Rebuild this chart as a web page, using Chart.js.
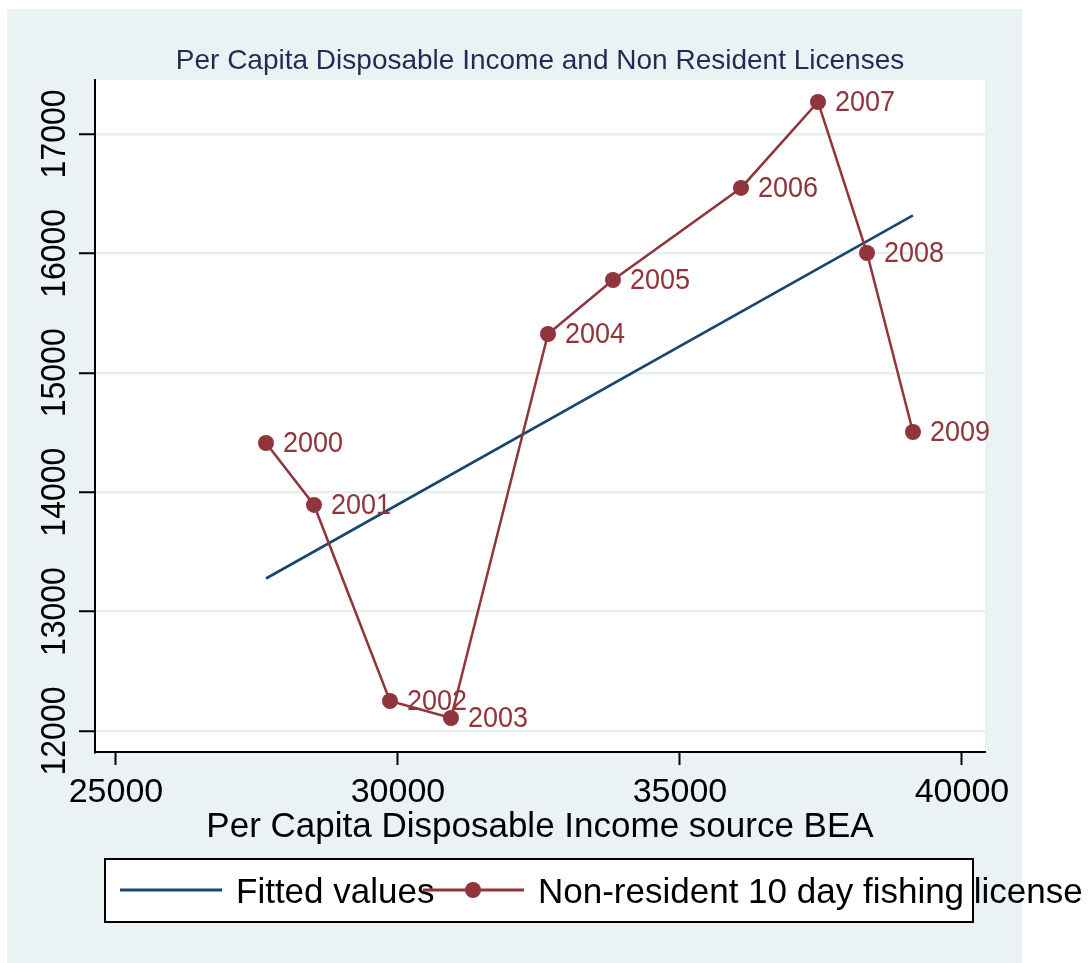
<!DOCTYPE html>
<html>
<head>
<meta charset="utf-8">
<title>Per Capita Disposable Income and Non Resident Licenses</title>
<script src="https://cdn.jsdelivr.net/npm/chart.js@4.4.1/dist/chart.umd.min.js"></script>
<style>
  html, body { margin: 0; padding: 0; background: #ffffff; }
  canvas { display: block; }
</style>
</head>
<body>
<canvas id="c" width="1089" height="963"></canvas>
<script>
// Years shown as marker labels
const years = ['2000', '2001', '2002', '2003', '2004', '2005', '2006', '2007', '2008', '2009'];
// Per capita disposable income (BEA), dollars
const income = [27660, 28511, 29858, 30940, 32660, 33812, 36082, 37447, 38316, 39131];
// Non-resident 10 day fishing licenses sold
const licenses = [14412, 13893, 12251, 12109, 15325, 15777, 16548, 17268, 16003, 14504];
// Linear fit evaluated at the lowest and highest income
const fitIncome = [27660, 39131];
const fitLicenses = [13277, 16319];
// Axis ticks
const xTicks = [25000, 30000, 35000, 40000];
const yTicks = [12000, 13000, 14000, 15000, 16000, 17000];

const FONT = '"Liberation Sans", Arial, Helvetica, sans-serif';
const MAROON = '#90353B';
const NAVY = '#1A476F';
const PANEL = '#EAF2F3';

const scatterPoints = income.map((x, i) => ({ x: x, y: licenses[i] }));
const fitPoints = fitIncome.map((x, i) => ({ x: x, y: fitLicenses[i] }));

// Light panel behind everything, white plotting region
const backdrop = {
  id: 'backdrop',
  beforeDraw(chart) {
    const { ctx, chartArea } = chart;
    ctx.save();
    ctx.fillStyle = PANEL;
    ctx.fillRect(7, 9, 1015, 954);
    ctx.fillStyle = '#ffffff';
    ctx.fillRect(chartArea.left, chartArea.top, chartArea.right - chartArea.left, chartArea.bottom - chartArea.top);
    ctx.restore();
  }
};

// Vertical-axis labels, rotated to read bottom to top
const yLabels = {
  id: 'yLabels',
  afterDraw(chart) {
    const { ctx } = chart;
    const ys = chart.scales.y;
    ctx.save();
    ctx.fillStyle = '#000000';
    ctx.font = '32px ' + FONT;
    ctx.textAlign = 'center';
    ctx.textBaseline = 'alphabetic';
    yTicks.forEach(v => {
      const py = ys.getPixelForValue(v);
      ctx.save();
      ctx.translate(65, py);
      ctx.rotate(-Math.PI / 2);
      ctx.scale(1, 1.08);
      ctx.fillText(String(v), 0, 0);
      ctx.restore();
    });
    ctx.restore();
  }
};

// Year labels to the right of each marker
const pointLabels = {
  id: 'pointLabels',
  afterDatasetsDraw(chart) {
    const { ctx } = chart;
    const meta = chart.getDatasetMeta(1);
    ctx.save();
    ctx.fillStyle = MAROON;
    ctx.font = '27px ' + FONT;
    ctx.textAlign = 'left';
    ctx.textBaseline = 'middle';
    meta.data.forEach((pt, i) => {
      ctx.save();
      ctx.translate(pt.x + 17, pt.y + 1);
      ctx.scale(1, 1.1);
      ctx.fillText(years[i], 0, 0);
      ctx.restore();
    });
    ctx.restore();
  }
};

// Boxed legend beneath the axis title
const boxLegend = {
  id: 'boxLegend',
  afterDraw(chart) {
    const { ctx } = chart;
    ctx.save();
    ctx.fillStyle = '#ffffff';
    ctx.fillRect(105, 859, 868, 63);
    ctx.strokeStyle = '#000000';
    ctx.lineWidth = 2;
    ctx.strokeRect(105, 859, 868, 63);

    ctx.lineCap = 'butt';
    ctx.strokeStyle = NAVY;
    ctx.lineWidth = 3;
    ctx.beginPath();
    ctx.moveTo(120, 890);
    ctx.lineTo(222, 890);
    ctx.stroke();

    ctx.fillStyle = '#000000';
    ctx.font = '35px ' + FONT;
    ctx.textAlign = 'left';
    ctx.textBaseline = 'alphabetic';
    ctx.fillText(chart.data.datasets[0].label, 236, 903);

    ctx.strokeStyle = MAROON;
    ctx.lineWidth = 3;
    ctx.beginPath();
    ctx.moveTo(423, 890);
    ctx.lineTo(524, 890);
    ctx.stroke();
    ctx.fillStyle = MAROON;
    ctx.beginPath();
    ctx.arc(473, 890, 8, 0, Math.PI * 2);
    ctx.fill();

    ctx.fillStyle = '#000000';
    ctx.fillText(chart.data.datasets[1].label, 538, 903);
    ctx.restore();
  }
};

new Chart(document.getElementById('c'), {
  type: 'scatter',
  data: {
    datasets: [
      {
        label: 'Fitted values',
        data: fitPoints,
        showLine: true,
        borderColor: NAVY,
        borderWidth: 2.6,
        pointRadius: 0,
        fill: false,
        order: 1
      },
      {
        label: 'Non-resident 10 day fishing license',
        data: scatterPoints,
        showLine: true,
        borderColor: MAROON,
        borderWidth: 2.5,
        backgroundColor: MAROON,
        pointBackgroundColor: MAROON,
        pointBorderColor: MAROON,
        pointRadius: 8,
        pointBorderWidth: 0,
        tension: 0,
        fill: false,
        order: 0
      }
    ]
  },
  options: {
    responsive: false,
    animation: false,
    events: [],
    layout: { padding: { top: 0, left: 0, right: 104, bottom: 0 } },
    plugins: {
      legend: { display: false },
      tooltip: { enabled: false },
      title: {
        display: true,
        fullSize: false,
        text: 'Per Capita Disposable Income and Non Resident Licenses',
        color: '#1F2D56',
        font: { family: FONT, size: 28, weight: 'normal', lineHeight: 1.2 },
        padding: { top: 44, bottom: 2.4 }
      }
    },
    scales: {
      x: {
        type: 'linear',
        min: 24628,
        max: 40408,
        afterBuildTicks(scale) { scale.ticks = xTicks.map(v => ({ value: v })); },
        afterFit(scale) { scale.height = 211; },
        border: { display: true, color: '#000000', width: 2 },
        grid: {
          color: 'rgba(0,0,0,0)',
          drawTicks: true,
          tickLength: 13,
          tickColor: '#000000',
          tickWidth: 2
        },
        ticks: {
          color: '#000000',
          font: { family: FONT, size: 34, lineHeight: 1.2 },
          padding: 7,
          maxRotation: 0,
          minRotation: 0,
          autoSkip: false,
          callback: v => String(v)
        },
        title: {
          display: true,
          text: 'Per Capita Disposable Income source BEA',
          color: '#000000',
          font: { family: FONT, size: 35, lineHeight: 1.2 },
          padding: { top: 0, bottom: 115 }
        }
      },
      y: {
        type: 'linear',
        min: 11824,
        max: 17452,
        afterBuildTicks(scale) { scale.ticks = yTicks.map(v => ({ value: v })); },
        afterFit(scale) { scale.width = 95; },
        border: { display: true, color: '#000000', width: 2 },
        grid: {
          color: '#E6EFF1',
          lineWidth: 2.5,
          drawTicks: true,
          tickLength: 16,
          tickColor: '#000000',
          tickWidth: 2
        },
        ticks: { display: false }
      }
    }
  },
  plugins: [backdrop, yLabels, pointLabels, boxLegend]
});
</script>
</body>
</html>
